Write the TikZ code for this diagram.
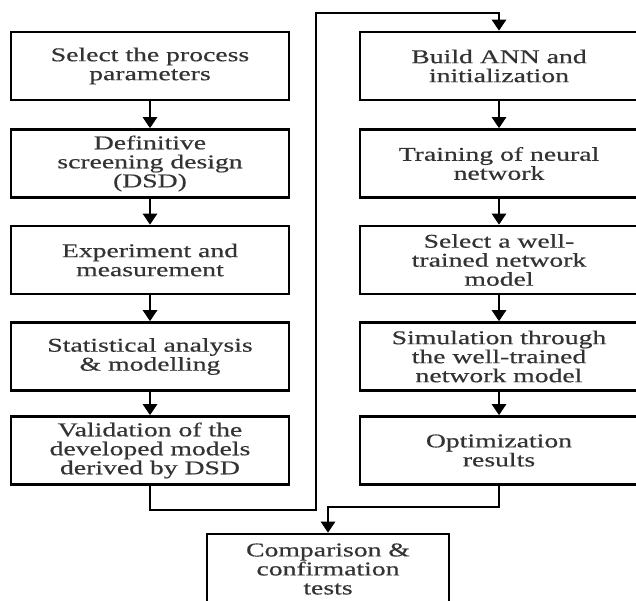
\documentclass[tikz,border=0pt]{standalone}
\usepackage{fontspec}
\setmainfont{Liberation Serif}[FakeStretch=1.42,FakeBold=0.5]
\usetikzlibrary{arrows.meta}
\begin{document}
\begin{tikzpicture}[x=1pt,y=-1pt,
  stepbox/.style={draw=black, line width=2.6pt, inner sep=0pt, align=center,
    minimum width=278pt, minimum height=68pt, text=black!80,
    font=\fontsize{19.5}{19}\selectfont},
  conn/.style={line width=2.6pt, draw=black},
  arr/.style={conn, -{Triangle[length=11pt,width=14pt]}}]
\useasboundingbox (0,0) rectangle (636,600);
\clip (0,0) rectangle (636,600);
% left column
\node[stepbox] (l1) at (150,66) {Select the process\\parameters};
\node[stepbox] (l2) at (150,163.5) {Definitive\\screening design\\(DSD)};
\node[stepbox] (l3) at (150,260) {Experiment and\\measurement};
\node[stepbox] (l4) at (150,356.5) {Statistical analysis\\\& modelling};
\node[stepbox] (l5) at (150,450.5) {Validation of the\\developed models\\derived by DSD};
% right column
\node[stepbox] (r1) at (499,66) {Build ANN and\\initialization};
\node[stepbox] (r2) at (499,163.5) {Training of neural\\network};
\node[stepbox] (r3) at (499,260) {Select a well-\\trained network\\model};
\node[stepbox] (r4) at (499,356.5) {Simulation through\\the well-trained\\network model};
\node[stepbox] (r5) at (499,450.5) {Optimization\\results};
% bottom
\node[stepbox, minimum width=242pt, minimum height=70pt] (cmp) at (328,569) {Comparison \&\\confirmation\\tests};
% connectors
\draw[arr] (l1) -- (l2);
\draw[arr] (l2) -- (l3);
\draw[arr] (l3) -- (l4);
\draw[arr] (l4) -- (l5);
\draw[arr] (r1) -- (r2);
\draw[arr] (r2) -- (r3);
\draw[arr] (r3) -- (r4);
\draw[arr] (r4) -- (r5);
\coordinate (c1) at (316,510);
\coordinate (c2) at (316,13);
\coordinate (c3) at (400,507);
\draw[arr] (l5.south) |- (c1) -- (c2) -| (r1.north);
\draw[arr] (r5.south) |- (c3) -| (cmp.north);
\end{tikzpicture}
\end{document}
